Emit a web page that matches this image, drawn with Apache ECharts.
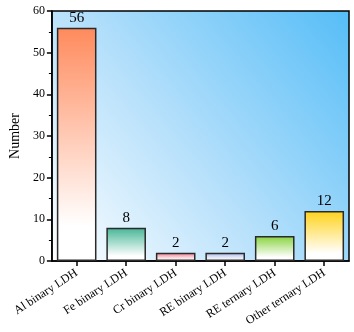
<!DOCTYPE html>
<html>
<head>
<meta charset="utf-8">
<script src="https://cdn.jsdelivr.net/npm/echarts@6/dist/echarts.min.js"></script>
<style>
  html, body { margin: 0; padding: 0; background: #fff; }
  #main { width: 354px; height: 332px; }
</style>
</head>
<body>
<div id="main"></div>
<script>
var categories = ['Al binary LDH', 'Fe binary LDH', 'Cr binary LDH', 'RE binary LDH', 'RE ternary LDH', 'Other ternary LDH'];
var counts = [56, 8, 2, 2, 6, 12];
var topColors = ['#ff8a5c', '#45b595', '#f07a8c', '#a9b6e6', '#86d23c', '#ffd21a'];
var yTicks = [0, 10, 20, 30, 40, 50, 60];

function barFill(c) {
  return new echarts.graphic.LinearGradient(0, 0, 0, 1, [
    { offset: 0, color: c },
    { offset: 0.85, color: '#ffffff' },
    { offset: 1, color: '#ffffff' }
  ]);
}

var dom = document.getElementById('main');
var myChart = echarts.init(dom);

var serif = '"Liberation Serif", "Times New Roman", serif';

var option = {
  animation: false,
  grid: {
    left: 42, right: 5, top: 11, bottom: 71,
    show: true,
    borderColor: '#000',
    borderWidth: 1.5,
    backgroundColor: new echarts.graphic.LinearGradient(1, 0, 0, 1, [
      { offset: 0, color: '#55bdf7' },
      { offset: 0.55, color: '#b6e0fb' },
      { offset: 1, color: '#ffffff' }
    ])
  },
  xAxis: {
    type: 'category',
    data: categories,
    axisLine: { lineStyle: { color: '#000', width: 1.5 } },
    axisTick: { show: true, alignWithLabel: true, length: 5, lineStyle: { color: '#000', width: 1.5 } },
    axisLabel: {
      interval: 0,
      rotate: 33,
      margin: 11,
      color: '#000',
      fontFamily: serif,
      fontSize: 12
    }
  },
  yAxis: {
    type: 'value',
    min: yTicks[0],
    max: yTicks[yTicks.length - 1],
    interval: 10,
    name: 'Number',
    nameLocation: 'middle',
    nameGap: 27,
    nameTextStyle: { color: '#000', fontFamily: serif, fontSize: 14 },
    splitLine: { show: false },
    axisLine: { show: true, lineStyle: { color: '#000', width: 1.5 } },
    axisTick: { show: true, length: 5, lineStyle: { color: '#000', width: 1.5 } },
    minorTick: { show: true, splitNumber: 2, length: 3, lineStyle: { color: '#000', width: 1 } },
    axisLabel: { color: '#000', fontFamily: serif, fontSize: 12, margin: 7 }
  },
  series: [{
    type: 'bar',
    barWidth: '80%',
    data: counts.map(function (v, i) {
      return { value: v, itemStyle: { color: barFill(topColors[i]) } };
    }),
    itemStyle: { borderColor: '#2a2a2a', borderWidth: 1.5 },
    label: {
      show: true,
      position: 'top',
      distance: 2,
      color: '#000',
      fontFamily: serif,
      fontSize: 15
    }
  }]
};

myChart.setOption(option, true);
</script>
</body>
</html>
